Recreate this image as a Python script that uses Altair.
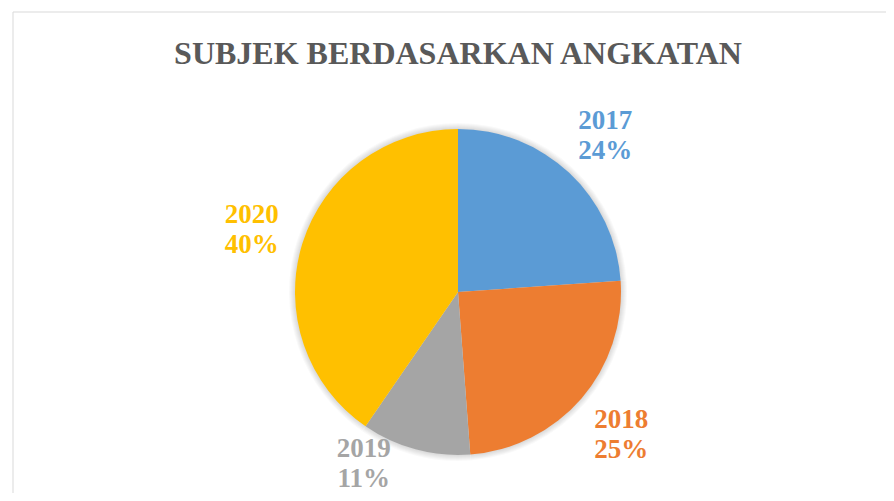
import altair as alt
import pandas as pd

# ---- data ----
years = ["2017", "2018", "2019", "2020"]
shares = [23.9, 24.9, 10.8, 40.4]          # percent of subjects per cohort
colors = ["#5B9BD5", "#ED7D31", "#A5A5A5", "#FFC000"]
title_text = "SUBJEK BERDASARKAN ANGKATAN"

df = pd.DataFrame({"year": years, "share": shares})
df["label"] = [f"{y}\n{round(s)}%" for y, s in zip(years, shares)]

FONT = "Liberation Serif"
theta_scale = alt.Scale(domain=[0, 100], range=[0, 6.283185307179586])
color_enc = alt.Color("year:N", scale=alt.Scale(domain=years, range=colors), legend=None)

base = alt.Chart(df).transform_window(
    cum="sum(share)", sort=[alt.SortField("year", order="ascending")], frame=[None, 0]
).transform_calculate(
    start="datum.cum - datum.share", mid="datum.cum - datum.share / 2"
)

# soft shadow rings around the pie
shadow_layers = [
    base.mark_arc(radius=r, color="#000000", opacity=0.022).encode(
        theta=alt.Theta("start:Q", scale=theta_scale), theta2="cum:Q"
    )
    for r in [169, 168, 167, 166, 165, 164]
]

pie = base.mark_arc(radius=163).encode(
    theta=alt.Theta("start:Q", scale=theta_scale),
    theta2="cum:Q",
    color=color_enc,
)

text_style = dict(font=FONT, fontSize=27, fontWeight="bold", lineBreak="\n",
                  lineHeight=30, radius=216, align="center", baseline="middle")

labels_main = base.transform_filter("datum.year != '2019'").mark_text(
    dy=-13, **text_style
).encode(
    theta=alt.Theta("mid:Q", scale=theta_scale),
    text="label:N",
    color=color_enc,
)
labels_2019 = base.transform_filter("datum.year == '2019'").mark_text(
    dx=-38, dy=-52, **text_style
).encode(
    theta=alt.Theta("mid:Q", scale=theta_scale),
    text="label:N",
    color=color_enc,
)

# chart frame (light grey border, left & top visible)
frame = alt.Chart(pd.DataFrame({"f": [0]})).mark_rect(
    fillOpacity=0, stroke="#D9D9D9", strokeWidth=1
).encode(
    x=alt.value(-17), y=alt.value(-95), x2=alt.value(900), y2=alt.value(600)
)

chart = alt.layer(frame, *shadow_layers, pie, labels_main, labels_2019).properties(
    width=856,
    height=370,
    padding={"left": 22, "top": 99, "right": 0, "bottom": 16},
    autosize=alt.AutoSizeParams(type="none"),
    title=alt.TitleParams(
        title_text, font=FONT, fontSize=32, fontWeight="bold", color="#595959",
        anchor="middle", frame="group", baseline="alphabetic", offset=0, dy=84,
    ),
).configure_view(stroke=None)

chart.save("out.html", embed_options={"renderer": "svg", "actions": False})
